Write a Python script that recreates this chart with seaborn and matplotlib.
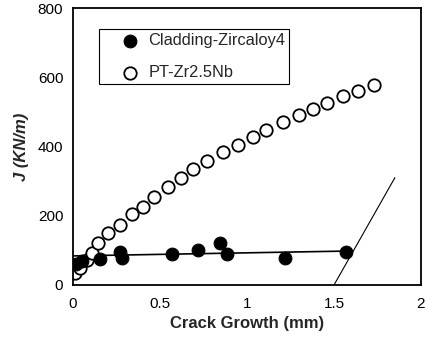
import matplotlib
matplotlib.use("Agg")
import matplotlib.pyplot as plt
import seaborn as sns
import pandas as pd

# --- data ---
clad_x = [0.02, 0.05, 0.155, 0.27, 0.283, 0.567, 0.72, 0.845, 0.887, 1.218, 1.569]
clad_y = [60, 68, 74, 96, 78, 89, 101, 120, 89, 79, 94]

pt_x = [0.011, 0.04, 0.079, 0.107, 0.146, 0.203, 0.27, 0.337, 0.404, 0.467,
        0.548, 0.621, 0.692, 0.768, 0.864, 0.946, 1.033, 1.109, 1.209, 1.30,
        1.38, 1.46, 1.55, 1.64, 1.73]
pt_y = [34, 49, 72, 91, 120, 149, 173, 205, 226, 255,
        284, 308, 334, 359, 385, 404, 427, 448, 472, 492,
        508, 527, 545, 561, 577]

fit_x = [0.0, 1.57]
fit_y = [84, 98]

excl_x = [1.5, 1.85]
excl_y = [0, 310]

labels = ["Cladding-Zircaloy4", "PT-Zr2.5Nb"]
x_ticks = [0, 0.5, 1, 1.5, 2]
x_tick_labels = ["0", "0.5", "1", "1.5", "2"]
y_ticks = [0, 200, 400, 600, 800]

sns.set_theme(style="white")
plt.rcParams["font.family"] = ["Liberation Sans", "DejaVu Sans"]

df = pd.DataFrame({
    "x": clad_x + pt_x,
    "y": clad_y + pt_y,
    "mat": [labels[0]] * len(clad_x) + [labels[1]] * len(pt_x),
})

fig = plt.figure(figsize=(4.28, 3.40), dpi=100)
ax = fig.add_axes([73 / 428, 1 - 285 / 340, 348 / 428, 277 / 340])

ax.plot(fit_x, fit_y, color="black", lw=1.2, zorder=1)
ax.plot(excl_x, excl_y, color="black", lw=0.8, zorder=1)

sns.scatterplot(data=df[df.mat == labels[0]], x="x", y="y", ax=ax,
                color="black", edgecolor="black", s=85, marker="o",
                label=labels[0], zorder=3)
sns.scatterplot(data=df[df.mat == labels[1]], x="x", y="y", ax=ax,
                facecolor="white", edgecolor="black", linewidth=1.3, s=80,
                marker="o", label=labels[1], zorder=2)

ax.set_xlim(0, 2)
ax.set_ylim(0, 800)
ax.set_xticks(x_ticks)
ax.set_xticklabels(x_tick_labels)
ax.set_yticks(y_ticks)
ax.tick_params(direction="in", length=4, width=0.8, labelsize=11, colors="black")
ax.tick_params(axis="x", pad=9)
ax.tick_params(axis="y", pad=7)
for sp in ax.spines.values():
    sp.set_color("black")
    sp.set_linewidth(1.3)

ax.set_xlabel("Crack Growth (mm)", fontsize=12, fontweight="bold", labelpad=3)
ax.set_ylabel("J (KN/m)", fontsize=12, fontweight="bold", style="italic", labelpad=6)

leg = ax.legend(loc="upper left", bbox_to_anchor=(0.075, 0.924), borderaxespad=0,
                fancybox=False, edgecolor="black", framealpha=1, fontsize=11.8,
                labelspacing=1.05, handletextpad=-0.55, borderpad=0.25,
                handlelength=3.3)
leg.get_frame().set_linewidth(0.8)

fig.savefig("out.png", dpi=100)
